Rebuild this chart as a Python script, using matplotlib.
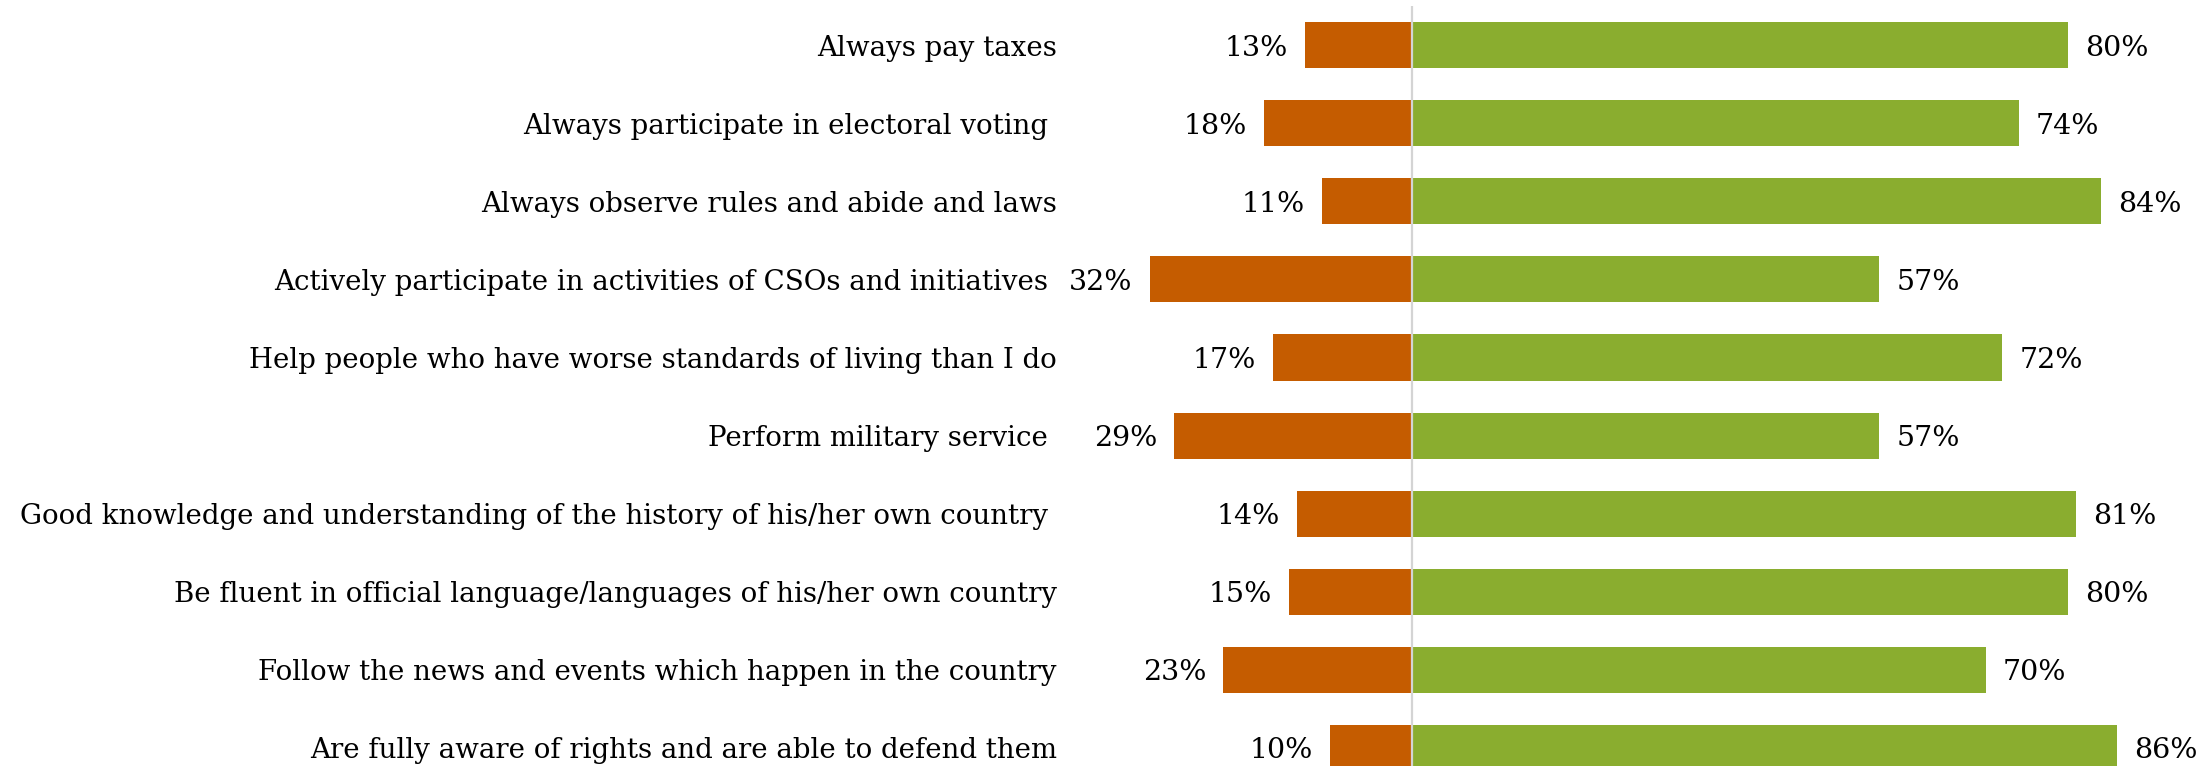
import matplotlib
matplotlib.use("Agg")
import matplotlib.pyplot as plt

categories = [
    "Always pay taxes",
    "Always participate in electoral voting ",
    "Always observe rules and abide and laws",
    "Actively participate in activities of CSOs and initiatives ",
    "Help people who have worse standards of living than I do",
    "Perform military service ",
    "Good knowledge and understanding of the history of his/her own country ",
    "Be fluent in official language/languages of his/her own country",
    "Follow the news and events which happen in the country",
    "Are fully aware of rights and are able to defend them",
]
negative = [13, 18, 11, 32, 17, 29, 14, 15, 23, 10]
positive = [80, 74, 84, 57, 72, 57, 81, 80, 70, 86]

ORANGE = "#C55C00"
GREEN = "#8AAD2F"
FONT = "DejaVu Serif"
FS = 19.9
FS_VAL = 20.5

W, H = 2200, 766
fig = plt.figure(figsize=(W / 100, H / 100), dpi=100)
zero_px = 1412
px_per = 8.2
left_px = 1062
ax = fig.add_axes([left_px / W, 0, 1 - left_px / W, 1 - 6 / H])

y = list(range(len(categories)))
ax.barh(y, [-v for v in negative], height=0.59, color=ORANGE, zorder=2)
ax.barh(y, positive, height=0.59, color=GREEN, zorder=2)
ax.axvline(0, color="#D4D4D4", lw=1.6, zorder=3)

ax.set_xlim(-(zero_px - left_px) / px_per, (W - zero_px) / px_per)
ax.set_ylim(9 + (H - 748) / 78.1, -0.5)

off = 17 / px_per
for i in y:
    ax.text(-negative[i] - off, i, f"{negative[i]}%", ha="right", va="center_baseline",
            fontsize=FS_VAL, family=FONT, zorder=4)
    ax.text(positive[i] + off, i, f"{positive[i]}%", ha="left", va="center_baseline",
            fontsize=FS_VAL, family=FONT, zorder=4)

ax.set_yticks(y)
ax.set_yticklabels(categories, fontsize=FS, family=FONT)
ax.tick_params(axis="y", length=0, pad=3.6)
ax.set_xticks([])
for s in ax.spines.values():
    s.set_visible(False)

fig.savefig("out.png", dpi=100)
